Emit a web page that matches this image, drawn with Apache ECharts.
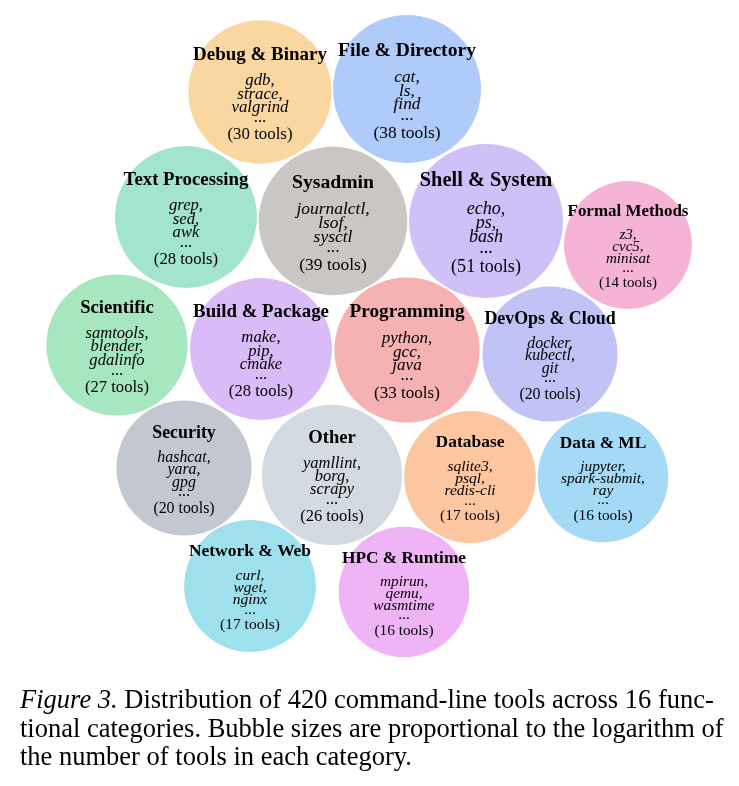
<!DOCTYPE html>
<html>
<head>
<meta charset="utf-8">
<script src="https://cdn.jsdelivr.net/npm/echarts@6/dist/echarts.min.js"></script>
<style>
  html, body { margin: 0; padding: 0; background: #fff; }
  #chart { width: 739px; height: 786px; }
</style>
</head>
<body>
<div id="chart"></div>
<script>
// categories and tool counts
const categories = [
  'Debug & Binary', 'File & Directory', 'Text Processing', 'Sysadmin',
  'Shell & System', 'Formal Methods', 'Scientific', 'Build & Package',
  'Programming', 'DevOps & Cloud', 'Security', 'Other',
  'Database', 'Data & ML', 'Network & Web', 'HPC & Runtime'
]
const toolCounts = [30, 38, 28, 39, 51, 14, 27, 28, 33, 20, 20, 26, 17, 16, 17, 16]
const examples = [
  ['gdb', 'strace', 'valgrind'],
  ['cat', 'ls', 'find'],
  ['grep', 'sed', 'awk'],
  ['journalctl', 'lsof', 'sysctl'],
  ['echo', 'ps', 'bash'],
  ['z3', 'cvc5', 'minisat'],
  ['samtools', 'blender', 'gdalinfo'],
  ['make', 'pip', 'cmake'],
  ['python', 'gcc', 'java'],
  ['docker', 'kubectl', 'git'],
  ['hashcat', 'yara', 'gpg'],
  ['yamllint', 'borg', 'scrapy'],
  ['sqlite3', 'psql', 'redis-cli'],
  ['jupyter', 'spark-submit', 'ray'],
  ['curl', 'wget', 'nginx'],
  ['mpirun', 'qemu', 'wasmtime']
]
// packed layout (x, y in layout units)
const bubbleX = [260, 407, 186, 333, 486, 628, 117, 261, 407, 550, 184, 332, 470, 603, 250, 404]
const bubbleY = [92, 89, 217, 221, 221, 245, 345, 349, 350, 354, 468, 475, 477, 477, 586, 592]
const colors = [
  '#FAD7A0', '#AECBFA', '#A3E4CF', '#CAC6C4', '#D0C0F8', '#F5B3D6', '#A7E7C0', '#D9BCF7',
  '#F6B1B2', '#C1C3F7', '#C2C7D0', '#D4DAE2', '#FCC6A0', '#A4DAF5', '#9EE1EC', '#EEB4F5'
]

const serif = '"Liberation Serif", "DejaVu Serif", serif'
const captionLines = [
  '{i|Figure 3.} Distribution of 420 command-line tools across 16 func-',
  'tional categories. Bubble sizes are proportional to the logarithm of',
  'the number of tools in each category.'
]

// bubble radius grows with log of tool count
function radius(n) {
  return 37.3 + 10.1 * Math.log(n)
}

const chart = echarts.init(document.getElementById('chart'))

const data = categories.map((name, i) => {
  const r = radius(toolCounts[i])
  const lines = ['{t|' + name + '}']
  examples[i].forEach((ex, k) => {
    lines.push('{e|' + ex + (k < examples[i].length - 1 ? ',' : '') + '}')
  })
  lines.push('{d|...}')
  lines.push('{c|(' + toolCounts[i] + ' tools)}')
  return {
    name: name,
    value: [bubbleX[i], bubbleY[i], toolCounts[i]],
    itemStyle: { color: colors[i], opacity: 1 },
    label: {
      show: true,
      position: 'inside',
      formatter: lines.join('\n'),
      rich: {
        t: { fontFamily: serif, fontWeight: 'bold', fontSize: 0.265 * r, lineHeight: 0.54 * r, color: '#000' },
        e: { fontFamily: serif, fontStyle: 'italic', fontSize: 0.235 * r, lineHeight: 0.185 * r, color: '#000' },
        d: { fontFamily: serif, fontSize: 0.235 * r, lineHeight: 0.10 * r, color: '#000' },
        c: { fontFamily: serif, fontSize: 0.235 * r, lineHeight: 0.38 * r, color: '#000' }
      }
    }
  }
})

chart.setOption({
  animation: false,
  grid: { left: 0, top: 0, width: 739, height: 786 },
  xAxis: { type: 'value', min: 0, max: 739, show: false },
  yAxis: { type: 'value', min: 0, max: 786, inverse: true, show: false },
  series: [{
    type: 'scatter',
    symbol: 'circle',
    symbolSize: (val) => 2 * radius(val[2]),
    emphasis: { disabled: true },
    data: data
  }],
  graphic: captionLines.map((text, i) => ({
    type: 'text',
    left: 20,
    top: 688 + i * 28.5,
    style: {
      text: text,
      fontFamily: serif,
      fontSize: 26.5,
      fill: '#000',
      rich: {
        i: { fontFamily: serif, fontStyle: 'italic', fontSize: 26.5, fill: '#000' }
      }
    }
  }))
})
</script>
</body>
</html>
